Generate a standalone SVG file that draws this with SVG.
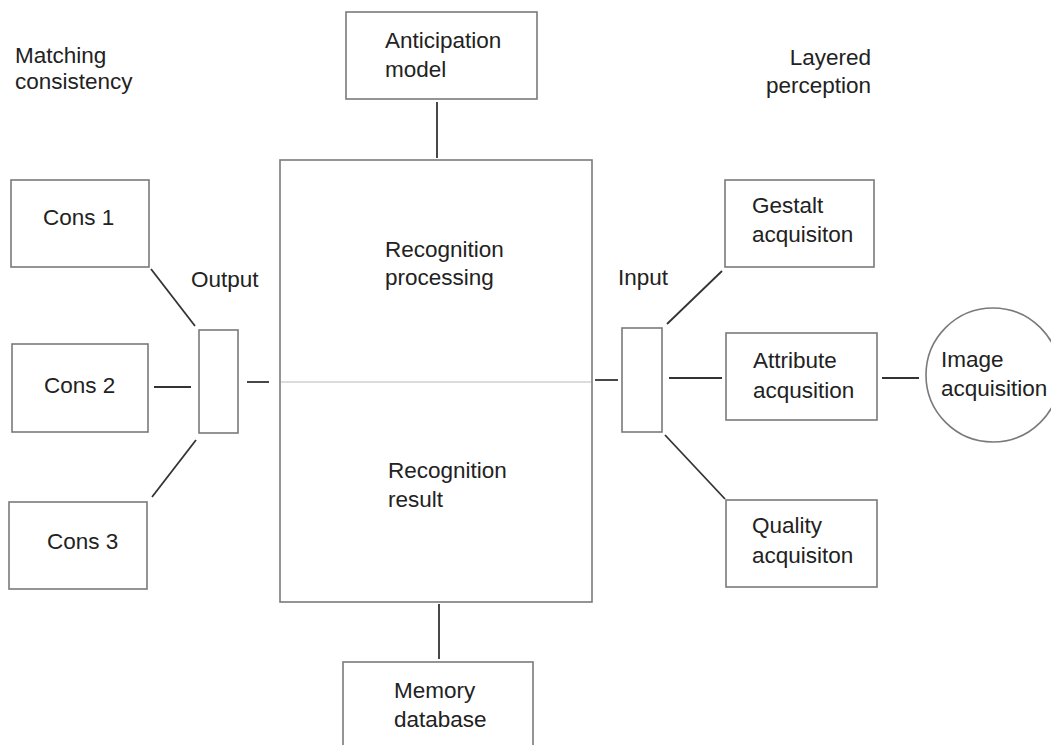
<svg xmlns="http://www.w3.org/2000/svg" width="1051" height="745" viewBox="0 0 1051 745">
<style>
.box{fill:#fff;stroke:#7a7a7a;stroke-width:1.6}
.conn line{stroke:#333;stroke-width:1.8}
text{font-family:"Liberation Sans",Arial,sans-serif;font-size:22.5px;fill:#222}
</style>
<rect width="1051" height="745" fill="#fff"/>
<g id="labels">
<text x="15" y="63">Matching</text>
<text x="15" y="89">consistency</text>
<text x="871" y="65" text-anchor="end">Layered</text>
<text x="871" y="93" text-anchor="end">perception</text>
<text x="191" y="287">Output</text>
<text x="618" y="285">Input</text>
</g>
<g class="conn" id="connectors">
<line x1="437" y1="102" x2="437" y2="158"/>
<line x1="439" y1="604" x2="439" y2="659"/>
<line x1="151" y1="269" x2="195" y2="326"/>
<line x1="154" y1="387" x2="191" y2="387"/>
<line x1="152" y1="497" x2="196" y2="440"/>
<line x1="247" y1="382" x2="269" y2="382"/>
<line x1="595" y1="380" x2="618" y2="380"/>
<line x1="667" y1="324" x2="722" y2="271"/>
<line x1="669" y1="378" x2="722" y2="378"/>
<line x1="665" y1="435" x2="725" y2="499"/>
<line x1="882" y1="378" x2="919" y2="378"/>
</g>
<g id="main">
<rect class="box" x="280" y="160" width="312" height="442"/>
<line x1="281" y1="382" x2="591" y2="382" stroke="#d0d0d0" stroke-width="1.5"/>
<text x="385" y="257">Recognition</text>
<text x="385" y="285">processing</text>
<text x="388" y="478">Recognition</text>
<text x="388" y="507">result</text>
</g>
<g id="anticipation">
<rect class="box" x="346" y="12" width="191" height="87"/>
<text x="385" y="48">Anticipation</text>
<text x="385" y="77">model</text>
</g>
<g id="memory">
<rect class="box" x="343" y="662" width="190" height="100"/>
<text x="394" y="698">Memory</text>
<text x="394" y="727">database</text>
</g>
<g id="cons1">
<rect class="box" x="11" y="180" width="138" height="87"/>
<text x="43" y="225">Cons 1</text>
</g>
<g id="cons2">
<rect class="box" x="12" y="344" width="136" height="88"/>
<text x="44" y="393">Cons 2</text>
</g>
<g id="cons3">
<rect class="box" x="9" y="502" width="138" height="87"/>
<text x="47" y="549">Cons 3</text>
</g>
<g id="output">
<rect class="box" x="199" y="330" width="39" height="103"/>
</g>
<g id="input">
<rect class="box" x="622" y="328" width="40" height="104"/>
</g>
<g id="gestalt">
<rect class="box" x="725" y="180" width="149" height="87"/>
<text x="752" y="213">Gestalt</text>
<text x="752" y="242">acquisiton</text>
</g>
<g id="attribute">
<rect class="box" x="726" y="333" width="151" height="87"/>
<text x="753" y="368">Attribute</text>
<text x="753" y="398">acqusition</text>
</g>
<g id="quality">
<rect class="box" x="726" y="500" width="151" height="87"/>
<text x="752" y="533">Quality</text>
<text x="752" y="563">acquisiton</text>
</g>
<g id="image">
<circle class="box" cx="993" cy="375" r="67"/>
<text x="941" y="367">Image</text>
<text x="941" y="396">acquisition</text>
</g>
</svg>
